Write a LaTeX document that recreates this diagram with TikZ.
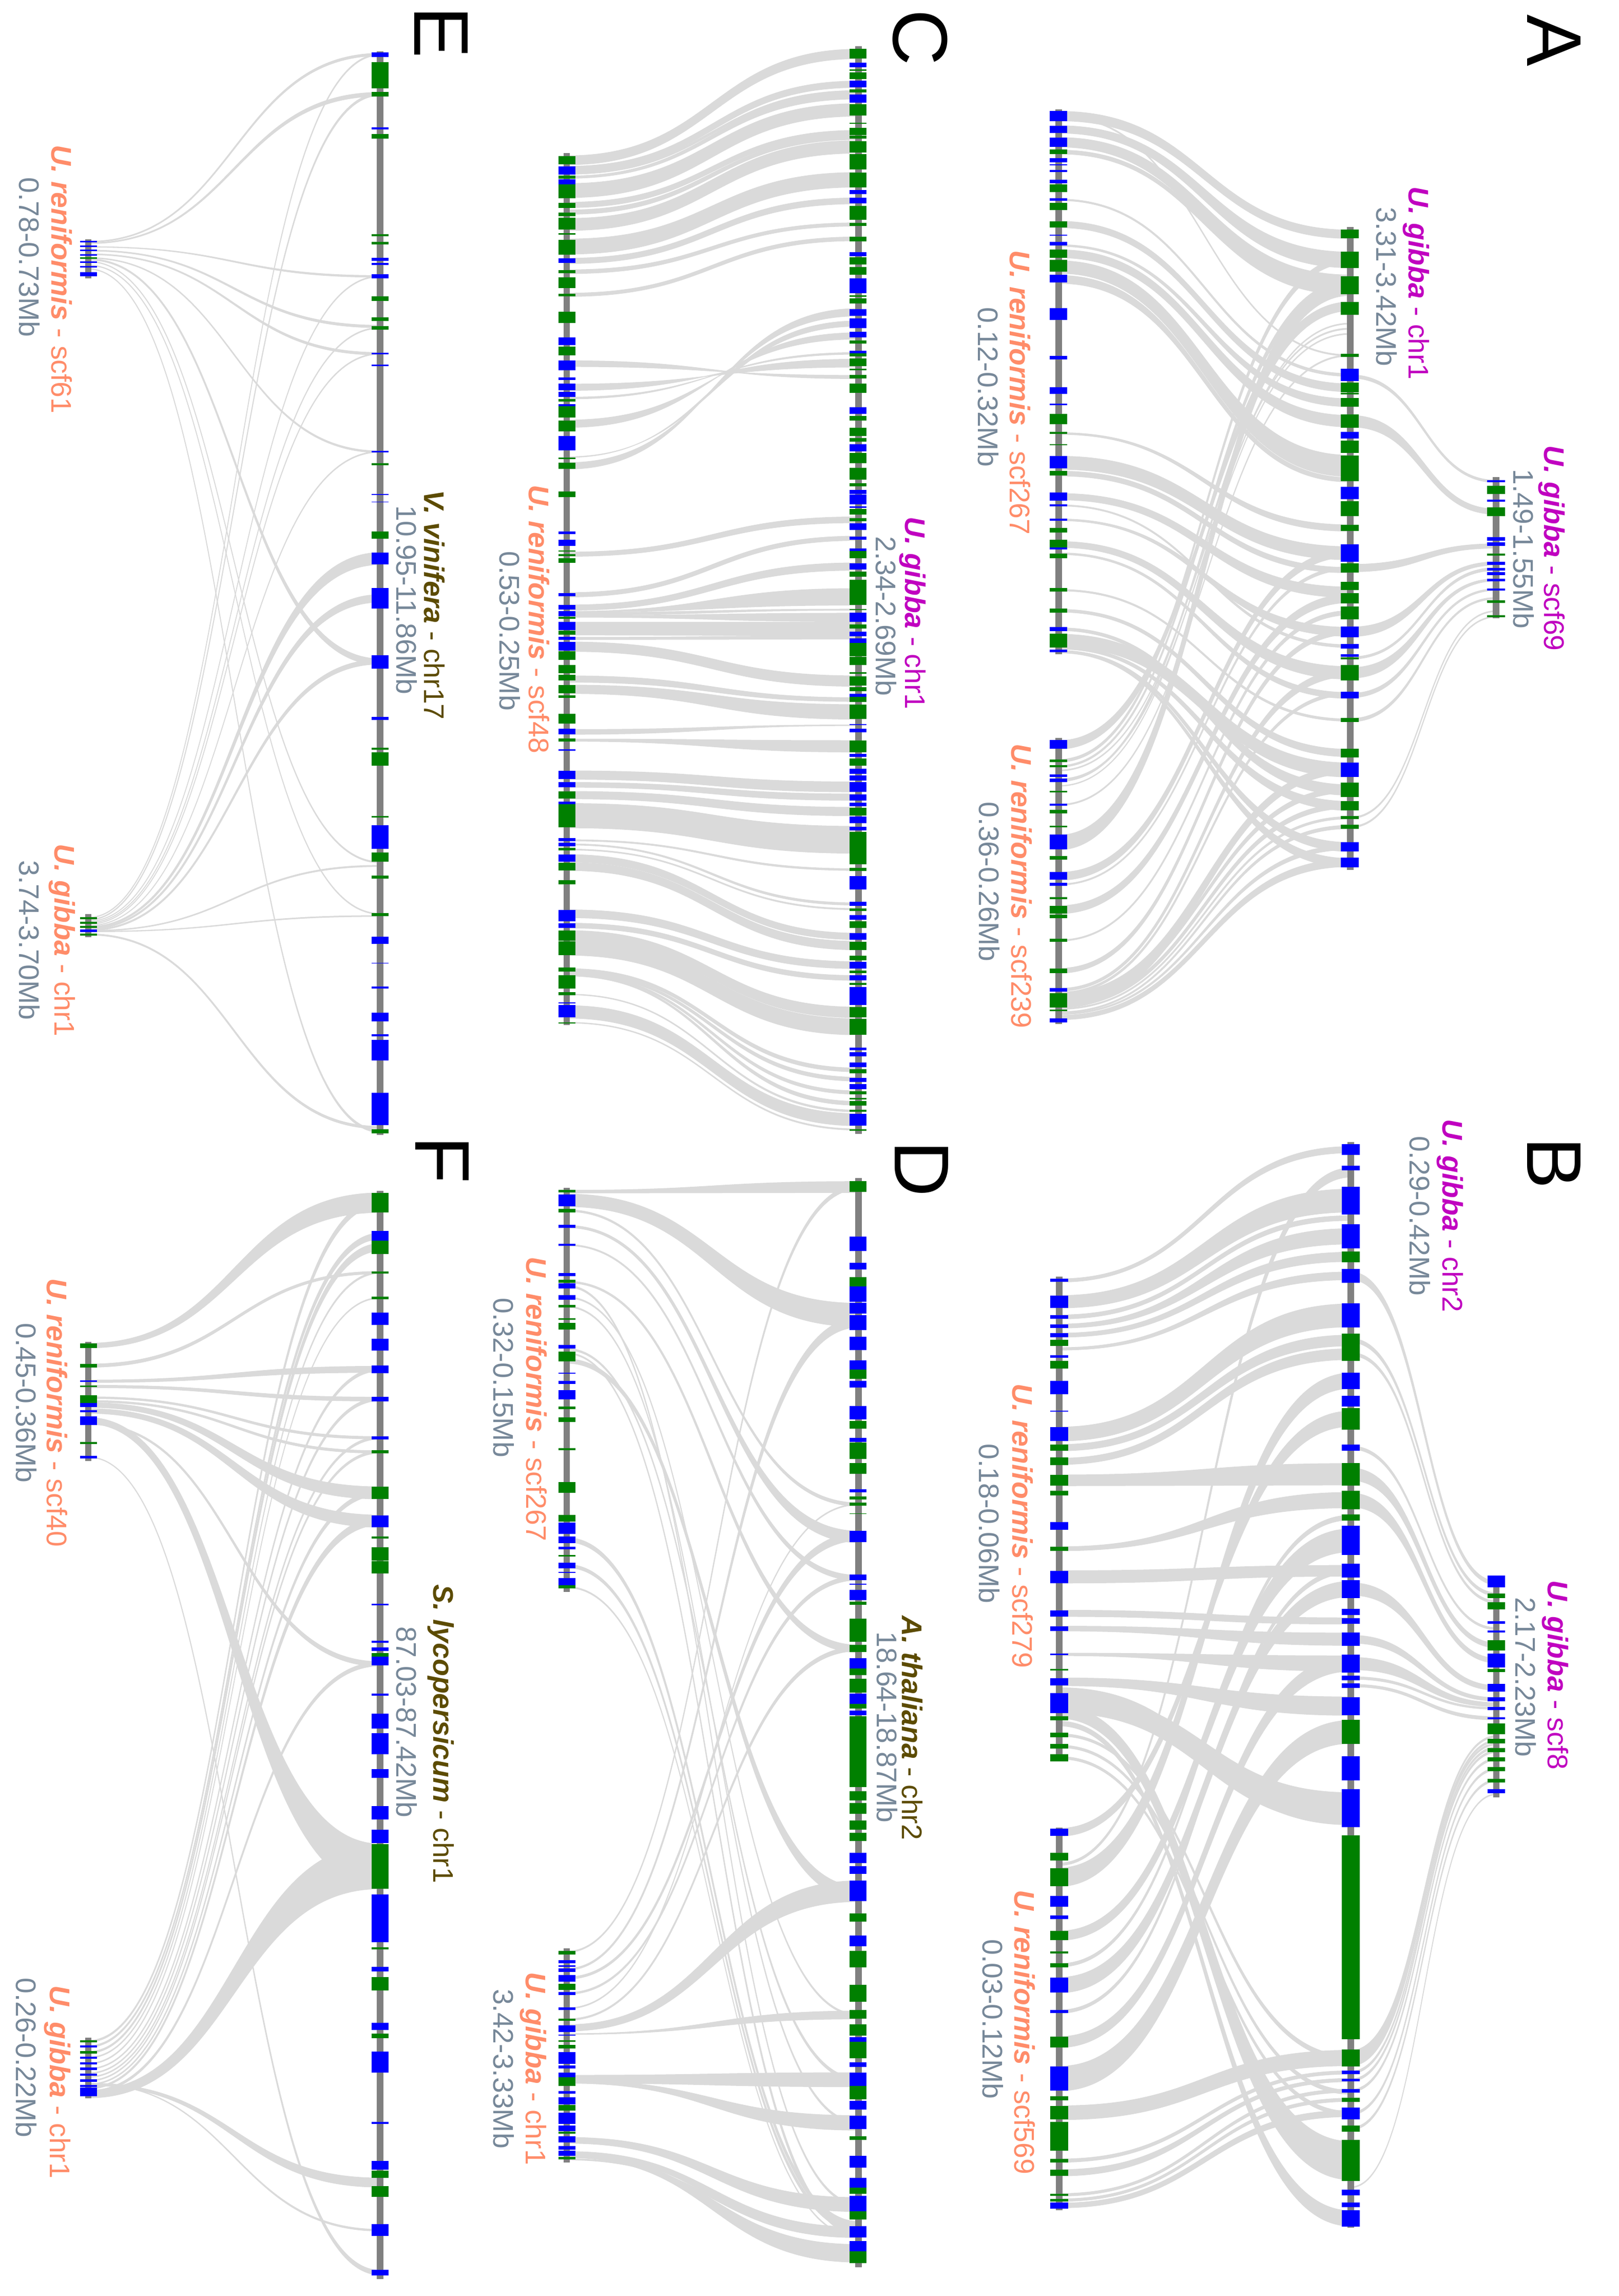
\documentclass[tikz,border=0pt]{standalone}
\usepackage{fontspec}
\setmainfont{Liberation Sans}
\definecolor{B}{HTML}{0000FF}
\definecolor{G}{HTML}{008000}
\definecolor{ribbongray}{HTML}{DADADA}
\definecolor{trackgray}{HTML}{808080}
\definecolor{gibbacol}{HTML}{C000C0}
\definecolor{renicol}{HTML}{FF8C69}
\definecolor{rangecol}{HTML}{778899}
\definecolor{outcol}{HTML}{5C4B00}
\tikzset{
  ribbon/.style={fill=ribbongray,draw=ribbongray,line width=0.9pt},
  trackbar/.style={draw=trackgray,line width=7pt},
  lab/.style={rotate=-90,inner sep=0pt,font=\fontsize{31.5}{36}\selectfont},
  panel/.style={rotate=-90,inner sep=0pt,font=\fontsize{86}{100}\selectfont,text=black},
  zP/.style={x=0.02cm,y=-0.02cm},
  zA/.style={shift={(34cm,0cm)},x=0.01854cm,y=-0.02806cm},
  zB/.style={shift={(34cm,-43cm)},x=0.01854cm,y=-0.0296cm},
  zC/.style={shift={(0cm,0cm)},x=0.02296cm,y=-0.0287cm},
  zD/.style={shift={(0cm,-44cm)},x=0.02296cm,y=-0.02897cm},
  cA1/.style={shift={(40cm,-3.8cm)},x=0.009694cm,y=-0.009694cm},
  cA2/.style={shift={(40cm,-19cm)},x=0.009694cm,y=-0.01352cm},
  cC1/.style={shift={(20cm,-1.2cm)},x=0.009694cm,y=-0.009694cm},
  cC2/.style={shift={(20cm,-16cm)},x=0.009694cm,y=-0.00791cm},
  cC3/.style={shift={(20cm,-28cm)},x=0.009694cm,y=-0.01046cm},
  cD1/.style={shift={(20cm,-45.6cm)},x=0.009694cm,y=-0.00816cm},
  cD2/.style={shift={(20cm,-58cm)},x=0.009694cm,y=-0.009694cm},
  cD3/.style={shift={(20cm,-73.2cm)},x=0.009694cm,y=-0.009694cm},
}
\newcommand\spc[2]{\textbf{\textit{#1}} - #2}
\newcommand\lbl[5]{\node[lab,text=#4] (#1) at (#2,#3) {#5};}
\newcommand\ribbons[3]{%
  \pgfmathsetmacro\xm{(#1+#2)/2}%
  \foreach \a/\ta/\b/\tb in {#3}{%
    \pgfmathsetmacro\aa{\a-(\ta)/2}\pgfmathsetmacro\ab{\a+(\ta)/2}%
    \pgfmathsetmacro\ba{\b-(\tb)/2}\pgfmathsetmacro\bb{\b+(\tb)/2}%
    \filldraw[ribbon] (#1,\aa) .. controls (\xm,\aa) and (\xm,\ba) .. (#2,\ba)
      -- (#2,\bb) .. controls (\xm,\bb) and (\xm,\ab) .. (#1,\ab) -- cycle;
  }}
\newcommand\genes[3]{% x, halfwidth, genes
  \pgfmathsetmacro\xl{#1-#2}\pgfmathsetmacro\xr{#1+#2}%
  \foreach \y/\t/\c in {#3}{%
    \pgfmathsetmacro\ya{\y-\t/2}\pgfmathsetmacro\yb{\y+\t/2}%
    \fill[fill=\c] (\xl,\ya) rectangle (\xr,\yb);
  }}
\newcommand\track[5]{% x, ytop, ybot, halfwidth, genes
  \draw[trackbar] (#1,#2) -- (#1,#3);
  \genes{#1}{#4}{#5}}
\begin{document}
\begin{tikzpicture}
\fill[white] (0,0) rectangle (63.08,-89.42);
\useasboundingbox (0,0) rectangle (63.08,-89.42);
% ---------- A ribbons and bars (picture pixels)
\begin{scope}[zP]
\ribbons{2062}{2630}{226/18/456/16,252/14/506/30,277/18/553/35,296/7/568/12,226/2/692/2,389/2.5/730/5,437/12/755/15,478/3/784/15,494/15/820/22,520/24/907/41,544/15/934/8,844/3/1028/12,901/25/1077/25,922/9/1110/10,
967/12/1153/20,984/2/1258/5,1012/3/1230/17,1060/11/1310/24,1078/3/1354/11,1149/2.5/1402/4,1189/5/1466/14,1225/5/1538/20,1247/24/1499/27,1261/5/1569/17,1268/3/1649/17,1270/2/1680/17,
1450/16/596/16,1481/5/506/12,1492/3/553/14,1520/3/600/10,1640/28/560/30,1567/2/692/2,1706/15/1077/14,1722/2/1106/6,1771/15/1165/16,1831/2/1193/8,1890/9/1230/10,1927/5/1310/14,1948/28/1499/14,1934/4/1350/6,1947/5/1538/10,1957/7/1569/9,1964/2/1592/4,1971/2/1610/6,1974/2/1650/8,1981/8/1680/14,1530/1/630/1.5,1500/1.5/640/2,1517/1/650/1.5}
\ribbons{2630}{2914}{733/6/937/4,820/22/996/10,1106/14/1063/8,1230/18/1097/6,1281/4/1108/5,1310/20/1129/4,1354/8/1148/3,1402/6/1165/3,1592/2.5/1190/1.5,1610/2.5/1201/1.5}
\draw[trackbar] (2062,213) -- (2062,1274);
\draw[trackbar] (2062,1437) -- (2062,1994);
\draw[trackbar] (2630,442) -- (2630,1694);
\end{scope}
\begin{scope}[cA1]
\genes{128}{36}{74/40/B,128/28/B,180/38/B,218/20/G,252/18/B,270/5/B,295/8/B,338/14/B,364/30/G,410/10/B,438/28/G,510/24/G,553/5/B,588/14/B,628/34/G,676/48/G,728/30/B,870/46/B,1046/14/B,1177/26/B,1234/6/B,1292/42/G,1348/10/G,1395/3/G,1466/50/B,1510/20/G}
\genes{1300}{36}{548/34/G,652/66/G,755/72/G,847/52/G,1036/12/G,1114/50/B,1165/40/G,1190/6/G,1225/36/G,1300/54/G,1357/28/B,1404/50/G,1490/104/G}
\end{scope}
\begin{scope}[cA2]
\genes{128}{36}{25/24/B,50/6/B,92/6/B,122/14/G,162/24/G,174/6/B,196/12/G,294/10/G,354/12/G,407/12/B,440/40/G,470/8/B,739/24/B,786/8/G,802/5/G,829/8/B,843/10/B,875/4/G,913/5/B,933/10/G,976/5/G,1020/44/B,1066/10/G,1118/22/B,1142/8/B,1182/6/G,1215/22/G,1234/10/G,1303/8/G,1391/14/G,1446/10/B,1476/42/G,1505/5/G,1534/12/B}
\genes{1300}{36}{15/36/B,60/42/G,115/18/G,188/50/B,231/26/G,282/24/G,318/30/G,360/38/G,415/32/B,456/14/B,483/6/B,491/6/G,533/44/G,597/18/B,668/12/G,764/24/G,812/42/B,870/42/G,916/26/G,950/8/G,976/12/G,1034/26/B,1079/28/B}
\end{scope}
\begin{scope}[zA]
\track{1310}{662}{858}{18.5}{668/3/B,680/12/G,695/3/B,710/12/G,748/5/B,755/5/B,770/3/G,782/4/B,790/4/B,796/4/B,805/3/B,818/3/B,835/4/G,855/3/G}
\lbl{la1}{1427}{761}{gibbacol}{\spc{U. gibba}{scf69}}
\lbl{ra1}{1368}{762}{rangecol}{1.49-1.55Mb}
\lbl{la2}{1142}{393}{gibbacol}{\spc{U. gibba}{chr1}}
\lbl{ra2}{1080}{398}{rangecol}{3.31-3.42Mb}
\lbl{la3}{310}{545}{renicol}{\spc{U. reniformis}{scf267}}
\lbl{ra3}{243}{537}{rangecol}{0.12-0.32Mb}
\lbl{la4}{313}{1230}{renicol}{\spc{U. reniformis}{scf239}}
\lbl{ra4}{245}{1224}{rangecol}{0.36-0.26Mb}
\end{scope}
% ---------- B
\begin{scope}[zB]
\ribbons{392}{1005}{232/4/60/8,260/16/127/30,280/5/150/6,292/5/174/20,304/5/201/12,322/3/226/10,434/18/278/30,452/8/311/14,470/8/329/14,495/14/487/28,585/5/521/20,622/16/614/14,670/8/680/8,690/6/704/16,724/3/736/20,760/10/792/24,775/14/940/16,788/26/926/40,800/16/1390/50,815/6/1466/20,830/3/1255/6,845/3/1300/5,860/3/1328/5,
1000/3/90/12,958/10/414/20,1017/24/364/20,1094/12/574/30,1133/4/544/6,1159/20/638/20,1194/4/614/6,1234/14/736/20,1282/32/826/30,1327/18/1255/20,1390/4/1274/4,1406/8/1284/4,1435/3/1298/4,1442/3/1310/4,1449/6/1328/8}
\ribbons{1005}{1311}{226/10/630/5,311/5/645/4,329/4/655/3,452/4/690/2.5,487/16/712/6,521/18/732/6,638/16/768/6,704/10/783/4,736/16/790/5,755/3/795/2,765/3/808/4,1248/6/832/2,1255/10/838/2,1262/6/842/2,1274/3/847/2.5,1284/3/852/2.5,1298/3/862/2.5,1328/3/875/2.5,1348/3/890/2.5,1425/1/908/1}
\track{1311}{620}{912}{18.5}{628/16/B,647/6/G,660/10/G,682/3/B,694/3/B,712/14/G,732/18/B,745/4/G,768/10/B,783/6/B,795/4/B,808/3/B,822/14/G,838/6/G,850/5/G,862/5/G,875/5/G,890/5/G,904/6/B}
\track{1005}{50}{1478}{18.5}{60/14/B,84/6/B,127/36/B,174/32/B,201/14/G,226/18/B,278/32/B,311/18/G,329/18/G,364/22/B,391/14/B,414/28/G,452/8/B,487/30/G,521/24/G,544/8/G,574/38/B,614/18/B,638/24/B,668/8/B,680/8/B,704/18/B,736/24/B,755/6/B,765/6/B,792/24/B,826/32/G,874/32/B,926/50/B,1096/268/G,1255/22/G,1274/5/B,1284/4/B,1298/5/B,1310/5/G,1328/16/B,1348/8/G,1390/54/G,1432/8/B,1448/6/B,1466/22/B}
\track{392}{227}{865}{18.5}{232/4/B,260/16/B,280/5/B,292/5/B,304/5/B,314/8/G,332/3/B,343/10/G,373/18/B,404/2/B,434/18/B,452/8/G,470/10/G,495/14/G,512/6/G,555/10/B,585/5/G,622/16/B,670/8/B,690/6/B,724/2/B,744/2/G,760/10/B,788/26/B,808/5/G,830/6/G,845/6/G,860/10/G}
\track{392}{952}{1455}{18.5}{958/10/B,990/10/G,1017/24/G,1049/14/B,1070/5/B,1094/12/G,1116/3/G,1133/5/G,1159/20/B,1194/4/B,1234/14/G,1282/32/B,1308/6/G,1327/18/G,1358/38/G,1390/5/G,1406/8/G,1435/3/G,1442/3/G,1449/8/B}
\lbl{lb1}{1435}{751}{gibbacol}{\spc{U. gibba}{scf8}}
\lbl{rb1}{1372}{754}{rangecol}{2.17-2.23Mb}
\lbl{lb2}{1213}{147}{gibbacol}{\spc{U. gibba}{chr2}}
\lbl{rb2}{1150}{147}{rangecol}{0.29-0.42Mb}
\lbl{lb3}{315}{555}{renicol}{\spc{U. reniformis}{scf279}}
\lbl{rb3}{245}{552}{rangecol}{0.18-0.06Mb}
\lbl{lb4}{320}{1221}{renicol}{\spc{U. reniformis}{scf569}}
\lbl{rb4}{253}{1204}{rangecol}{0.03-0.12Mb}
\end{scope}
% ---------- C ribbons and bars
\begin{scope}[zP]
\ribbons{1104}{1672}{312/17/105/18,330/12/164/12,337/4/179/5,345/4/187/11,371/27/214/24,399/10/259/10,413/8/268/7,437/23/286/24,480/29/350/28,508/10/391/11,529/7/437/6,574/6/465/7,
708/11/734/-6,754/12/707/-15,775/3/688/-3,825/14/654/-12,890/1/630/-10,907/12/608/-14,
1079/8/1012/11,1158/8/1048/8,1183/10/1103/14,1191/1/1162/32,1195/5/1187/2,1200/3/1202/16,1219/15/1219/15,1232/8/1233/9,1243/4/1241/6,1259/18/1326/20,1322/12/1362/7,1342/16/1386/28,
1425/9/1412/1,1441/4/1453/22,1509/16/1532/19,1528/9/1552/12,1548/14/1580/16,1588/47/1635/52,1636/2/1693/3,1644/2/1760/4,1654/1.5/1770/2,1671/14/1823/12,1687/15/1841/16,1779/15/1879/13,1802/9/1904/9,1822/20/1971/20,1846/27/1999/31,1889/6/2083/7,1894/4/2101/7,1897/3/2127/6,1899/2/2148/7,1936/1/2163/3,1970/24/2180/23,1991/1/2199/2}
\draw[trackbar] (1104,298) -- (1104,1996);
\draw[trackbar] (1672,90) -- (1672,2208);
\end{scope}
\begin{scope}[cC1]
\genes{215}{34}{520/34/G,561/34/B,588/12/G,607/22/B,645/54/G,702/20/G,738/16/G,775/46/G,816/6/G,870/60/G,924/20/B,968/14/G,1012/44/G,1062/12/G,1152/44/G,1248/30/B,1287/34/G,1340/30/B,1358/14/B,1398/10/B,1431/26/B,1462/20/B,1486/10/G,1506/12/B,1530/42/G}
\genes{1386}{34}{92/38/G,137/20/B,158/6/G,180/26/G,214/26/B,241/12/G,272/34/B,318/46/G,371/4/G,405/30/G,428/12/G,466/46/G,527/62/G,600/60/G,648/18/B,682/22/B,731/56/G,779/12/G,837/18/G,898/18/B,925/28/G,965/32/G,1024/60/B,1067/6/G,1086/22/G,1132/28/B,1176/40/B,1221/22/B,1251/12/G,1291/12/B,1303/12/G,1332/30/G,1361/6/G,1391/14/G,1437/38/G,1526/28/B}
\end{scope}
\begin{scope}[cC2]
\genes{215}{34}{15/34/G,75/54/G,130/14/B,165/62/B,234/6/G,270/30/G,412/28/G,601/14/B,650/30/B,690/6/G,712/10/G,738/24/G,906/16/B,968/24/B,1000/24/B,1020/10/G,1060/40/B,1092/20/G,1121/14/B,1160/44/B,1206/42/G,1272/40/G,1315/28/G,1372/40/G,1408/14/G,1516/48/G}
\genes{1386}{34}{8/16/B,36/22/G,103/40/G,143/20/G,182/36/B,222/30/G,248/20/G,310/60/G,365/16/G,400/20/B,436/48/B,474/8/B,498/28/G,536/14/G,570/32/B,627/16/B,685/16/B,708/34/G,766/30/B,804/26/G,853/40/G,915/82/G,980/6/G,1017/44/B,1062/20/G,1100/24/B,1133/22/B,1176/66/G,1232/40/G,1292/6/G,1330/46/G,1372/20/G,1402/16/B,1422/24/G,1482/70/G}
\end{scope}
\begin{scope}[cC3]
\genes{215}{34}{47/20/B,78/12/G,115/6/B,208/30/B,245/20/B,283/28/G,312/10/B,360/86/G,449/10/B,467/12/B,485/10/G,518/26/B,549/28/G,607/16/G,724/28/B,744/18/B,769/18/B,806/38/G,853/52/G,932/16/G,978/50/G,1022/10/G,1056/4/B,1088/46/B,1131/4/G}
\genes{1386}{34}{21/4/B,43/12/B,102/44/G,136/12/B,160/26/G,195/18/B,220/18/B,253/36/B,292/24/B,318/12/B,345/30/G,375/24/B,408/14/B,470/100/G,525/30/G,560/10/G,609/50/B,688/16/B,710/10/G,739/18/B,765/26/G,809/24/B,844/30/G,889/18/G,916/26/B,941/10/G,963/18/B,986/6/G,1031/68/B,1091/38/G,1146/60/G,1228/10/B,1248/16/B,1287/18/B,1311/16/G,1343/16/B,1368/18/B,1391/12/G,1413/4/G,1430/16/G,1458/8/G,1492/44/B,1530/6/G}
\end{scope}
% ---------- E
\begin{scope}[zC]
\lbl{lc1}{1548}{832}{gibbacol}{\spc{U. gibba}{chr1}}
\lbl{rc1}{1503}{836}{rangecol}{2.34-2.69Mb}
\lbl{lc2}{915}{840}{renicol}{\spc{U. reniformis}{scf48}}
\lbl{rc2}{865}{856}{rangecol}{0.53-0.25Mb}
\ribbons{150}{645}{328/1/74/3,330/1/128/5,335/.5/375/2,340/1/443/3,345/1/480/3,350/.8/613/2,352/1.5/898/8,355/.5/1170/1.5,360/.5/1240/1,365/.5/1535/3,
1245/.5/74/1.5,1248/.8/128/3,1250/.3/375/1,1252/.3/445/1,1254/.3/480/1,1256/.3/613/1,1258/1.5/758/16,1260/1.5/812/10,1262/1.5/898/6,1263/.8/1175/1.5,1264/.5/1243/1,1268/1.5/1530/3}
\track{645}{70}{1540}{14.4}{74/6/B,102/36/G,128/6/G,174/3/B,185/6/G,319/3/G,330/3/G,352/4/B,358/3/B,375/6/B,405/6/G,433/5/G,445/5/G,480/2/B,496/2/B,613/2/B,630/3/G,671/1/B,681/1/B,726/10/G,758/16/B,812/28/B,898/18/B,975/4/B,1016/3/G,1030/18/G,1108/2/G,1136/32/B,1163/12/G,1190/4/G,1241/4/G,1276/10/B,1307/1/B,1340/3/B,1380/12/B,1405/3/B,1425/28/B,1505/44/B,1535/6/G}
\track{150}{325}{378}{14.4}{328/2/B,334/2/B,340/2/B,346/2/B,350/2/G,356/2/B,362/2/B,372/6/B}
\track{150}{1240}{1272}{14.4}{1246/3/G,1252/3/G,1258/3/G,1263/3/B,1268/3/G}
\lbl{le1}{737}{821}{outcol}{\spc{V. vinifera}{chr17}}
\lbl{re1}{690}{814}{rangecol}{10.95-11.86Mb}
\lbl{le2}{105}{379}{renicol}{\spc{U. reniformis}{scf61}}
\lbl{re2}{50}{349}{rangecol}{0.78-0.73Mb}
\lbl{le3}{105}{1276}{renicol}{\spc{U. gibba}{chr1}}
\lbl{re3}{50}{1276}{rangecol}{3.74-3.70Mb}
\end{scope}
% ---------- D ribbons and bars
\begin{scope}[zP]
\ribbons{1104}{1672}{2320/5/2311/21,2337/24/2560/45,2357/3/2929/6,2388/4/2992/22,2424/2/3072/10,2496/3/3210/14,2504/3/4292/4,2526/2/3923/3,2544/2/4133/4,2627/3/4049/6,2635/2/4346/10,2650/8/3685/25,2998/8/4330/10,3049/6/4340/8,3090/2/4355/1.5,
3800/2/2311/8,3834/3/2575/18,3851/4/2992/15,3881/3/3072/8,3910/1.5/2929/1.5,3932/2.5/3210/8,3948/12/3682/40,3960/1/3923/15,4048/15/4049/27,4053/5/4133/28,4167/11/4292/27,4193/8/4346/20,4198/5/4387/34,4204/2/4353/6}
\draw[trackbar] (1104,2313) -- (1104,3099);
\draw[trackbar] (1104,3793) -- (1104,4210);
\draw[trackbar] (1672,2294) -- (1672,4414);
\end{scope}
\begin{scope}[cD1]
\genes{215}{34}{97/14/G,140/56/B,190/16/G,264/14/B,352/10/B,495/14/B,527/14/G,548/24/B,603/22/B,646/12/G,707/6/G,742/32/G,839/16/B,886/46/G,965/6/B,1010/14/B,1068/42/B,1130/12/G,1188/22/G,1328/10/G,1510/50/G}
\genes{1386}{34}{75/52/G,348/70/B,455/32/B,528/44/G,588/72/B,655/50/B,724/70/B,823/62/B,925/44/B,970/44/G,1018/34/B,1153/64/B,1211/38/G,1283/20/B,1335/80/G,1420/52/G,1527/14/B,1560/14/G}
\end{scope}
\begin{scope}[cD2]
\genes{215}{34}{5/16/G,116/26/G,157/44/B,203/28/B,237/10/B,267/6/G,307/22/B,334/5/B,372/28/B,392/12/G}
\genes{1386}{34}{5/12/B,33/6/G,60/14/G,98/4/G,190/44/B,354/22/B,381/4/B,425/40/B,459/12/G,566/92/G,640/28/G,700/40/B,734/26/G,790/56/G,842/40/B,872/20/G,899/20/B,1055/285/G,1232/38/G,1283/44/G,1350/36/G,1397/34/G,1482/40/B,1530/30/B}
\end{scope}
\begin{scope}[cD3]
\genes{215}{34}{294/16/G,330/12/B,348/6/B,365/14/B,397/26/B,431/26/G,458/14/B,519/12/B,563/8/G,600/26/B,625/4/B,650/6/G,672/16/G,717/46/B,754/12/B,786/20/B,812/34/G,856/10/B,890/28/B,917/22/G,960/46/B,1000/22/B,1018/8/G,1044/26/B,1078/14/B,1100/20/B,1120/10/G}
\genes{1386}{34}{45/84/B,153/34/G,246/44/B,319/66/G,457/68/G,542/34/G,604/46/G,643/20/B,686/66/G,744/20/B,802/54/B,856/54/G,907/36/B,976/54/B,1040/14/G,1134/46/B,1219/40/B,1251/24/G,1303/62/B,1350/32/G,1416/46/B,1474/40/B,1518/46/G}
\end{scope}
% ---------- F
\begin{scope}[zD]
\lbl{ld1}{1548}{804}{outcol}{\spc{A. thaliana}{chr2}}
\lbl{rd1}{1505}{803}{rangecol}{18.64-18.87Mb}
\lbl{ld2}{910}{362}{renicol}{\spc{U. reniformis}{scf267}}
\lbl{rd2}{855}{333}{rangecol}{0.32-0.15Mb}
\lbl{ld3}{905}{1262}{renicol}{\spc{U. gibba}{chr1}}
\lbl{rd3}{855}{1262}{rangecol}{3.42-3.33Mb}
\ribbons{150}{645}{290/6/98/26,317/4/192/3,338/3/322/8,345/3/362/5,360/2/414/3,365/2/433/3,370/6/488/16,378/6/526/16,391/8/990/60,395/2/718/6,440/.5/1536/6,
1225/2/98/8,1232/2/143/8,1240/2/158/10,1247/1/192/2,1255/1/226/1,1262/1/322/4,1268/1/362/4,1273/1/414/3,1278/1/433/3,1283/1/488/6,1288/2/526/10,1293/3/718/5,1296/10/990/60,1283/3/1415/12,1282/.5/1479/2}
\track{645}{82}{1545}{14.4}{98/26/G,143/14/B,158/18/G,192/3/G,226/3/G,254/16/B,289/16/B,322/10/B,362/6/B,414/4/B,433/4/G,488/16/G,526/16/B,548/3/G,570/18/G,588/16/G,638/2/B,688/3/B,698/5/B,706/6/G,714/12/B,759/3/B,795/20/B,825/28/B,865/12/B,918/18/B,950/18/B,990/60/G,1060/64/B,1100/3/G,1128/6/B,1148/18/G,1205/10/B,1218/6/G,1253/28/B,1335/3/B,1392/12/B,1404/10/G,1427/14/G,1479/16/B,1536/8/B}
\track{150}{285}{445}{14.4}{290/6/G,317/5/G,338/2/B,345/2/G,362/10/G,370/6/B,378/3/B,391/12/B,421/3/G,440/4/B}
\track{150}{1220}{1302}{14.4}{1225/3/G,1232/3/B,1240/3/G,1247/3/B,1255/3/B,1262/3/B,1270/3/B,1278/3/B,1285/3/B,1293/12/B}
\lbl{lf1}{748}{812}{outcol}{\spc{S. lycopersicum}{chr1}}
\lbl{rf1}{690}{796}{rangecol}{87.03-87.42Mb}
\lbl{lf2}{97}{380}{renicol}{\spc{U. reniformis}{scf40}}
\lbl{rf2}{45}{367}{rangecol}{0.45-0.36Mb}
\lbl{lf3}{97}{1280}{renicol}{\spc{U. gibba}{chr1}}
\lbl{rf3}{45}{1247}{rangecol}{0.26-0.22Mb}
\end{scope}
% panel letters
\node[panel] (pA) at (60.54,-1.58) {A};
\node[panel] (pB) at (60.54,-45.3) {B};
\node[panel] (pC) at (35.86,-1.46) {C};
\node[panel] (pD) at (35.9,-45.52) {D};
\node[panel] (pE) at (17.18,-1.26) {E};
\node[panel] (pF) at (17.22,-45.18) {F};
\end{tikzpicture}
\end{document}
